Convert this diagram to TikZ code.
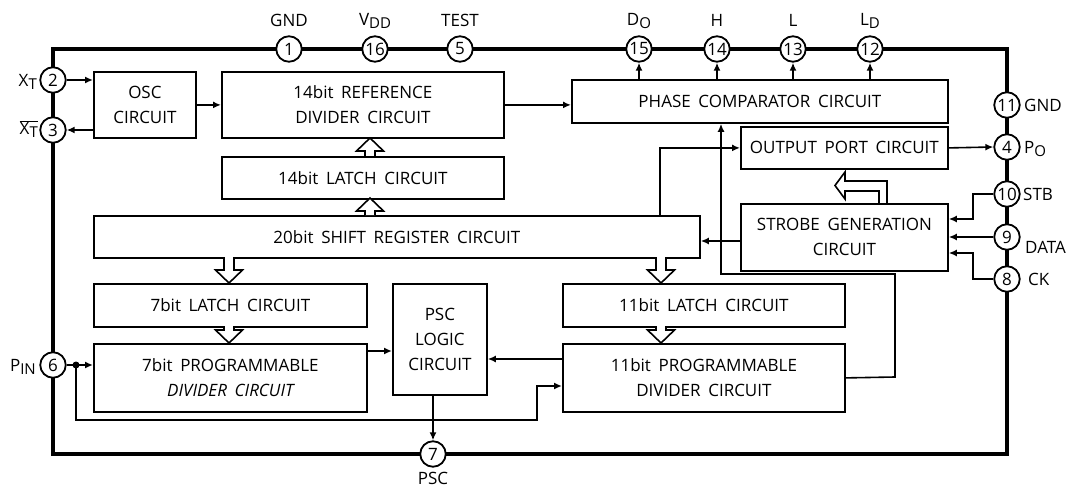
\documentclass[tikz,border=0pt]{standalone}
\usepackage{fontspec}
\setmainfont{Open Sans}
\usetikzlibrary{arrows.meta}
\newcommand\sbs[1]{\raisebox{-0.3ex}{\fontsize{15}{15}\selectfont #1}}
\newcommand\bfnt{\fontsize{17}{25}\selectfont\spaceskip=0.45em plus 0.1em\relax}
% hollow vertical arrow: x, y-start, y-tip
\newcommand\hollowv[3]{%
  \pgfmathsetmacro\hsgn{(#3>#2)?1:-1}%
  \draw[hol] (#1-5,#2) -- (#1-5,#3-\hsgn*13) -- (#1-13.5,#3-\hsgn*13) -- (#1,#3)
    -- (#1+13.5,#3-\hsgn*13) -- (#1+5,#3-\hsgn*13) -- (#1+5,#2);}
\begin{document}
\begin{tikzpicture}[x=1pt,y=-1pt,
  box/.style={draw, line width=1.8pt, inner sep=0pt, align=center, anchor=north west, font=\bfnt},
  pinc/.style={circle, draw, line width=1.8pt, fill=white, minimum size=25.5pt, inner sep=0pt, font=\fontsize{17}{17}\selectfont},
  lab/.style={inner sep=0pt, font=\fontsize{17}{17}\selectfont},
  arr/.style={line width=1.6pt, -{Latex[length=8pt,width=7pt]}},
  ln/.style={line width=1.6pt},
  hol/.style={line width=1.6pt, fill=white, line join=miter},
  frame/.style={line width=4pt}]
\useasboundingbox (0,0) rectangle (1073,489);

% frame
\draw[frame] (53,49) rectangle (1007,454);

% boxes
\node[box, minimum width=102pt, minimum height=66pt] (osc) at (93,71) {OSC\\CIRCUIT};
\node[box, minimum width=282pt, minimum height=66pt] (ref) at (221,71) {14bit REFERENCE\\DIVIDER CIRCUIT};
\node[box, minimum width=282pt, minimum height=42pt] (lat14) at (221,156) {14bit LATCH CIRCUIT};
\node[box, minimum width=606pt, minimum height=42pt] (shift) at (93,215) {20bit SHIFT REGISTER CIRCUIT};
\node[box, minimum width=273pt, minimum height=43pt] (lat7) at (93,283) {7bit LATCH CIRCUIT};
\node[box, minimum width=273pt, minimum height=68pt] (prog7) at (93,343) {7bit PROGRAMMABLE\\\itshape DIVIDER CIRCUIT};
\node[box, minimum width=94pt, minimum height=111pt] (psc) at (392,283) {PSC\\LOGIC\\CIRCUIT};
\node[box, minimum width=282pt, minimum height=43pt] (lat11) at (562,283) {11bit LATCH CIRCUIT};
\node[box, minimum width=282pt, minimum height=68pt] (prog11) at (562,343) {11bit PROGRAMMABLE\\DIVIDER CIRCUIT};
\node[box, minimum width=376pt, minimum height=43pt] (phase) at (571,79) {PHASE COMPARATOR CIRCUIT};
\node[box, minimum width=207pt, minimum height=42pt] (outp) at (740,126) {OUTPUT PORT CIRCUIT};
\node[box, minimum width=207pt, minimum height=67pt] (strobe) at (740,203) {STROBE GENERATION\\CIRCUIT};

% pins
\node[pinc] (p1) at (289,49) {1};
\node[pinc] (p16) at (375,49) {16};
\node[pinc] (p5) at (460,49) {5};
\node[pinc] (p15) at (639,49) {15};
\node[pinc] (p14) at (717,49) {14};
\node[pinc] (p13) at (793,49) {13};
\node[pinc] (p12) at (870,49) {12};
\node[pinc] (p11) at (1007,105) {11};
\node[pinc] (p4) at (1007,147) {4};
\node[pinc] (p10) at (1007,194) {10};
\node[pinc] (p9) at (1007,237) {9};
\node[pinc] (p8) at (1007,279) {8};
\node[pinc] (p2) at (53,80) {2};
\node[pinc] (p3) at (53,130) {3};
\node[pinc] (p6) at (53,365) {6};
\node[pinc] (p7) at (433,454) {7};

% pin labels
\node[lab] (lgnd1) at (289,20) {GND};
\node[lab] (lvdd) at (375,21) {V\sbs{DD}};
\node[lab] (ltest) at (460,20) {TEST};
\node[lab] (ldo) at (639,21) {D\sbs{O}};
\node[lab] (lh) at (717,20) {H};
\node[lab] (ll) at (793,20) {L};
\node[lab] (lld) at (870,21) {L\sbs{D}};
\node[lab, anchor=west] (lgnd2) at (1024,105) {GND};
\node[lab, anchor=west] (lpo) at (1024,149) {P\sbs{O}};
\node[lab, anchor=west] (lstb) at (1023,194) {STB};
\node[lab, anchor=west] (ldata) at (1025,247) {DATA};
\node[lab, anchor=west] (lck) at (1028,279) {CK};
\node[lab, anchor=east] (lxt) at (37,82) {X\sbs{T}};
\node[lab, anchor=east] (lxtb) at (38,129) {$\overline{\hbox{X\sbs{T}}}$};
\node[lab, anchor=east] (lpin) at (36,367) {P\sbs{IN}};
\node[lab] (lpsc) at (433,478) {PSC};

% connectors
\draw[arr] (p2.east) -- (p2.east -| osc.west);
\draw[arr] (p3.east -| osc.west) -- (p3.east);
\draw[arr] (osc.east) -- (ref.west);
\draw[arr] (ref.east) -- (ref.east -| phase.west);
\foreach \p in {p15,p14,p13,p12} \draw[arr] (\p.south |- phase.north) -- (\p.south);
\draw[arr] (outp.east) -- (p4.west);
\draw[arr] (p10.west) -- (973,194) -- (973,219) -- (strobe.east |- 0,219);
\draw[arr] (p9.west) -- (p9.west -| strobe.east);
\draw[arr] (p8.west) -- (973,279) -- (973,253) -- (strobe.east |- 0,253);
\draw[arr] (strobe.west |- 0,241) -- (shift.east |- 0,241);
\draw[arr] (660,0 |- shift.north) |- (outp.west);
\draw[arr] (prog11.east) -- (895,377) |- (721,274) -- (721,0 |- phase.south);
\draw[arr] (prog7.east |- 0,351) -- (psc.west |- 0,351);
\draw[arr] (prog11.west |- 0,359) -- (psc.east |- 0,359);
\draw[arr] (p6.east) -- (p6.east -| prog7.west);
\coordinate (dot) at (76,365);
\fill (dot) circle (3.5pt);
\draw[arr] (dot) -- (76,420) -- (537,420) -- (537,386) -- (prog11.west |- 0,386);
\draw[arr] (p7.north |- psc.south) -- (p7.north);

% hollow bus arrows
\hollowv{370}{156}{138}
\hollowv{370}{215}{198}
\hollowv{229}{257}{283}
\hollowv{661}{257}{283}
\hollowv{229}{326}{343}
\hollowv{661}{326}{343}
\draw[hol] (879,203) -- (879,191) -- (845,191) -- (845,199) -- (835,185.5) -- (845,172) -- (845,181) -- (887,181) -- (887,203);
\end{tikzpicture}
\end{document}
